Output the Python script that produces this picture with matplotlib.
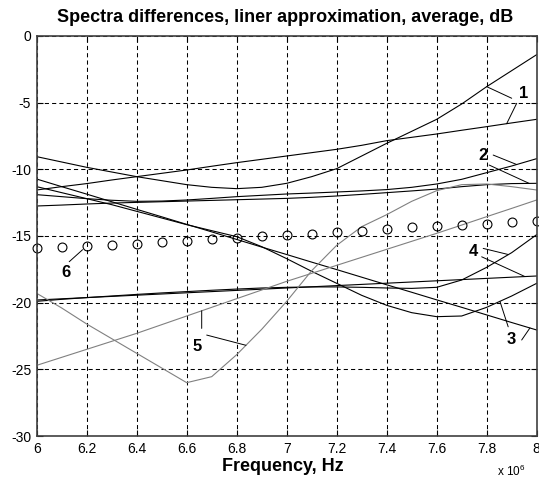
import numpy as np
import matplotlib
matplotlib.use("Agg")
import matplotlib.pyplot as plt

plt.rcParams['font.family'] = ['Liberation Sans', 'DejaVu Sans']
plt.rcParams['mathtext.fontset'] = 'custom'
plt.rcParams['mathtext.rm'] = 'Liberation Sans'

# frequency, x 10^6 Hz
freq = [6.0, 6.1, 6.2, 6.3, 6.4, 6.5, 6.6, 6.7, 6.8, 6.9, 7.0,
        7.1, 7.2, 7.3, 7.4, 7.5, 7.6, 7.7, 7.8, 7.9, 8.0]

# group 1
c1a = [-9.05, -9.45, -9.85, -10.2, -10.55, -10.85, -11.15, -11.35, -11.45, -11.35, -11.05,
       -10.55, -9.95, -9.0, -8.05, -7.15, -6.25, -5.1, -3.8, -2.6, -1.4]
c1b = [-11.55, -11.3, -11.07, -10.8, -10.55, -10.3, -10.05, -9.77, -9.5, -9.25, -9.0,
       -8.75, -8.5, -8.2, -7.85, -7.6, -7.35, -7.07, -6.8, -6.52, -6.25]
# group 2
c2a = [-11.9, -12.05, -12.2, -12.32, -12.4, -12.38, -12.3, -12.18, -12.05, -11.95, -11.85,
       -11.78, -11.7, -11.62, -11.52, -11.35, -11.1, -10.75, -10.25, -9.75, -9.2]
c2b = [-12.75, -12.68, -12.6, -12.53, -12.48, -12.43, -12.38, -12.33, -12.28, -12.23, -12.18,
       -12.1, -12.0, -11.88, -11.75, -11.62, -11.48, -11.3, -11.15, -11.07, -11.05]
# group 3
c3a = [-11.3, -11.75, -12.2, -12.65, -13.15, -13.65, -14.15, -14.6, -15.05, -15.8, -16.7,
       -17.65, -18.55, -19.45, -20.2, -20.75, -21.05, -21.0, -20.35, -19.5, -18.55]
c3b = [-10.73, -11.3, -11.86, -12.43, -13.0, -13.56, -14.13, -14.69, -15.26, -15.83, -16.39,
       -16.96, -17.52, -18.09, -18.66, -19.22, -19.79, -20.35, -20.92, -21.49, -22.05]
# group 4
c4a = [-19.8, -19.71, -19.62, -19.53, -19.44, -19.35, -19.26, -19.17, -19.08, -18.99, -18.9,
       -18.81, -18.72, -18.63, -18.54, -18.45, -18.36, -18.27, -18.18, -18.09, -18.0]
c4b = [-19.9, -19.75, -19.62, -19.5, -19.38, -19.27, -19.17, -19.07, -18.98, -18.9, -18.85,
       -18.82, -18.82, -18.85, -18.9, -18.93, -18.85, -18.3, -17.35, -16.25, -14.9]
# group 5 (grey)
c5a = [-24.7, -24.1, -23.5, -22.9, -22.3, -21.65, -21.0, -20.35, -19.7, -19.05, -18.4,
       -17.8, -17.2, -16.6, -16.0, -15.4, -14.8, -14.18, -13.55, -12.93, -12.3]
c5b = [-19.3, -20.4, -21.6, -22.7, -23.8, -24.9, -26.0, -25.55, -23.9, -22.0, -19.9,
       -17.6, -15.7, -14.3, -13.4, -12.4, -11.6, -11.15, -11.1, -11.3, -11.55]
# group 6, average (circles)
c6 = [-15.93, -15.85, -15.75, -15.68, -15.57, -15.45, -15.35, -15.25, -15.12, -15.03, -14.93,
      -14.85, -14.7, -14.6, -14.48, -14.35, -14.23, -14.15, -14.07, -13.98, -13.88]

xticks = [6, 6.2, 6.4, 6.6, 6.8, 7, 7.2, 7.4, 7.6, 7.8, 8]
yticks = [-30, -25, -20, -15, -10, -5, 0]

fig = plt.figure(figsize=(5.39, 4.83), dpi=100)
ax = fig.add_axes([0.0681, 0.0973, 0.9276, 0.8282])

for c in [c1a, c1b, c2a, c2b, c3a, c3b, c4a, c4b]:
    ax.plot(freq, c, color='k', lw=0.8)
for c in [c5a, c5b]:
    ax.plot(freq, c, color='#808080', lw=0.8)
ax.plot(freq, c6, 'o', mfc='none', mec='k', mew=0.8, ms=6.4, clip_on=False)

ax.set_xlim(6, 8)
ax.set_ylim(-30, 0)
ax.set_xticks(xticks)
ax.set_xticklabels(['%g' % t for t in xticks])
ax.set_yticks(yticks)
ax.set_yticklabels(['%g' % t for t in yticks])
ax.tick_params(direction='in', length=4, labelsize=10, pad=4,
               top=True, right=True, color='k')
ax.grid(True, color='k', lw=0.75, linestyle=(0, (4, 3)))
ax.set_axisbelow(True)
for s in ax.spines.values():
    s.set_color('#404040')
    s.set_linewidth(1.2)

# curve numbers with leader lines
def label(txt, tx, ty, leaders, shrink=0):
    ax.text(tx, ty, txt, fontsize=12, fontweight='bold', ha='center', va='center')
    for (sx, sy), (px, py) in leaders:
        ax.annotate('', xy=(px, py), xytext=(sx, sy),
                    arrowprops=dict(arrowstyle='-', lw=0.7, color='k',
                                    shrinkA=0, shrinkB=shrink))

def at(c, f):
    return (f, np.interp(f, freq, c))

label('1', 7.947, -4.3, [((7.90, -4.67), at(c1a, 7.80)),
                         ((7.92, -5.05), at(c1b, 7.88))])
label('2', 7.785, -9.0, [((7.826, -8.93), at(c2a, 7.92)),
                         ((7.81, -9.68), at(c2b, 7.97))])
label('3', 7.898, -22.73, [((7.886, -21.81), at(c3a, 7.853)),
                           ((7.94, -22.8), at(c3b, 7.973))])
label('4', 7.747, -16.13, [((7.786, -15.93), at(c4b, 7.887)),
                           ((7.78, -16.56), at(c4a, 7.953))])
label('5', 6.64, -23.3, [((6.66, -21.93), at(c5a, 6.66)),
                         ((6.68, -22.43), at(c5b, 6.837))])
label('6', 6.117, -17.74, [((6.13, -16.93), (freq[2], c6[2]))], shrink=4)

fig.text(0.5294, 0.963, 'Spectra differences, liner approximation, average, dB',
         fontsize=13, fontweight='bold', ha='center', va='center')
fig.text(0.525, 0.035, 'Frequency, Hz', fontsize=13, fontweight='bold',
         ha='center', va='center')
fig.text(0.922, 0.025, r'x 10$^{6}$', fontsize=8.5, ha='left', va='center')

fig.savefig('out.png', dpi=100)
